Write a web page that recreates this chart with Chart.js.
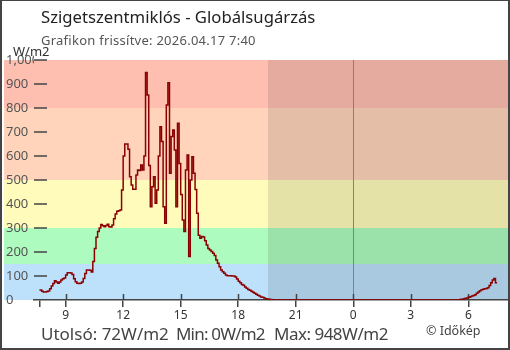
<!DOCTYPE html>
<html>
<head>
<meta charset="utf-8">
<script src="https://cdn.jsdelivr.net/npm/chart.js@4.4.1/dist/chart.umd.min.js"></script>
<style>
  body { margin: 0; background: #fff; font-family: "Noto Sans", sans-serif; }
  #box { position: relative; width: 510px; height: 350px; overflow: hidden; }
  #box canvas { position: absolute; left: 0; top: 0; }
  #frame { position: absolute; left: 0; top: 0; width: 510px; height: 350px; box-sizing: border-box;
           border: 2px solid #444; border-top-width: 1px; pointer-events: none; }
  .txt { position: absolute; line-height: 1; white-space: pre; }
  #title { left: 41px; top: 9px; font-size: 16.7px; color: #222; }
  #sub { left: 41px; top: 34px; font-size: 13px; color: #555; letter-spacing: 0.25px; }
  #unit { left: 13px; top: 45px; font-size: 13px; color: #333; }
  .foot { top: 325px; font-size: 17px; color: #444; }
  #copy { left: 426px; top: 325px; font-size: 12.5px; color: #444; }
</style>
</head>
<body>
<div id="box">
  <canvas id="sugarzas" width="510" height="350"></canvas>
  <div class="txt" id="title">Szigetszentmiklós - Globálsugárzás</div>
  <div class="txt" id="sub">Grafikon frissítve: 2026.04.17 7:40</div>
  <div class="txt" id="unit">W/m2</div>
  <div class="txt foot" style="left:41px">Utolsó: 72W/m2</div>
  <div class="txt foot" style="left:176px; letter-spacing:-0.8px">Min: 0W/m2</div>
  <div class="txt foot" style="left:274px; letter-spacing:-0.5px">Max: 948W/m2</div>
  <div class="txt" id="copy">© Időkép</div>
  <div id="frame"></div>
</div>
<script>
// 5 perces mintak, az elso 7:40-kor (orak az elozo nap 0:00-tol)
const startHour = 7 + 40 / 60;
const stepMinutes = 5;

const radiation = [
  44, 42, 36, 33, 33, 35, 38, 47, 58, 69, 80, 75, 70, 75, 83, 89, 92, 104, 114, 114,
  112, 106, 89, 76, 70, 69, 70, 75, 90, 110, 125, 125, 124, 117, 160, 215, 261, 285, 300, 315,
  309, 305, 310, 316, 305, 304, 312, 339, 358, 370, 372, 375, 458, 600, 650, 650, 628, 514, 479, 461,
  461, 521, 542, 540, 563, 542, 600, 948, 854, 560, 389, 472, 514, 403, 458, 600, 722, 660, 389, 320,
  812, 905, 528, 681, 708, 625, 389, 736, 569, 440, 333, 285, 542, 604, 181, 500, 597, 528, 460, 361,
  270, 257, 265, 263, 247, 229, 215, 208, 202, 195, 185, 167, 153, 139, 125, 118, 111, 104, 101, 101,
  101, 100, 100, 96, 88, 78, 72, 65, 61, 54, 49, 44, 41, 36, 32, 28, 24, 20, 17, 13,
  11, 8, 5, 4, 3, 2, 1, 0, 0, 0, 0, 0, 0, 0, 0, 0, 0, 0, 0, 0,
  0, 0, 0, 0, 0, 0, 0, 0, 0, 0, 0, 0, 0, 0, 0, 0, 0, 0, 0, 0,
  0, 0, 0, 0, 0, 0, 0, 0, 0, 0, 0, 0, 0, 0, 0, 0, 0, 0, 0, 0,
  0, 0, 0, 0, 0, 0, 0, 0, 0, 0, 0, 0, 0, 0, 0, 0, 0, 0, 0, 0,
  0, 0, 0, 0, 0, 0, 0, 0, 0, 0, 0, 0, 0, 0, 0, 0, 0, 0, 0, 0,
  0, 0, 0, 0, 0, 0, 0, 0, 0, 0, 0, 0, 0, 0, 0, 0, 0, 0, 0, 0,
  0, 0, 0, 0, 3, 3, 5, 7, 8, 11, 14, 17, 19, 22, 28, 33, 39, 43, 45, 47,
  48, 51, 60, 72, 83, 90, 72
];

// x tengely: orak (24 felett mar masnap)
const xMin = 7.35;
const xMax = 32.07;
const tickHours = [startHour, 9, 12, 15, 18, 21, 24, 27, 30];

// hatter savok (W/m2)
const bandFrom = [0, 150, 300, 500, 800];
const bandTo = [150, 300, 500, 800, 1000];
const bandColors = ['#bde0fb', '#adfbbe', '#fffcbb', '#ffd4bb', '#ffbfb0'];

// ejszaka (napnyugtatol) es ejfel
const sunsetHour = 19.55;
const midnightHour = 24;

const points = radiation.map((v, i) => ({ x: startHour + i * stepMinutes / 60, y: v }));

const background = {
  id: 'background',
  beforeDraw(chart) {
    const { ctx, chartArea, scales: { x, y } } = chart;
    ctx.save();
    bandFrom.forEach((from, i) => {
      const top = y.getPixelForValue(bandTo[i]);
      const bottom = y.getPixelForValue(from);
      ctx.fillStyle = bandColors[i];
      ctx.fillRect(4, top, chartArea.right - 4, bottom - top);
    });
    const night = x.getPixelForValue(sunsetHour);
    ctx.fillStyle = 'rgba(0,0,0,0.1)';
    ctx.fillRect(night, chartArea.top, chartArea.right - night, chartArea.bottom - chartArea.top);
    const mid = Math.round(x.getPixelForValue(midnightHour)) + 0.5;
    ctx.strokeStyle = '#4a8fcc';
    ctx.lineWidth = 1;
    ctx.beginPath();
    ctx.moveTo(mid, chartArea.top);
    ctx.lineTo(mid, chartArea.bottom);
    ctx.stroke();
    ctx.restore();
  },
  beforeDatasetsDraw(chart) {
    const { ctx, chartArea, scales: { x, y } } = chart;
    ctx.save();
    ctx.strokeStyle = '#444';
    ctx.lineWidth = 1.5;
    ctx.beginPath();
    // y osztasjelek a rajzterulet bal szelen
    for (let v = 100; v <= 1000; v += 100) {
      const py = Math.round(y.getPixelForValue(v));
      ctx.moveTo(chartArea.left, py);
      ctx.lineTo(chartArea.left + 13, py);
    }
    // x osztasjelek felso resze
    tickHours.slice(1).forEach(h => {
      const px = Math.round(x.getPixelForValue(h)) + 0.5;
      ctx.moveTo(px, chartArea.bottom - 6);
      ctx.lineTo(px, chartArea.bottom);
    });
    ctx.stroke();
    ctx.restore();
  }
};

new Chart(document.getElementById('sugarzas'), {
  type: 'line',
  data: {
    datasets: [{
      data: points,
      borderColor: '#8b0000',
      borderWidth: 1.5,
      pointRadius: 0,
      stepped: 'after',
      fill: false
    }]
  },
  options: {
    responsive: false,
    animation: false,
    layout: { padding: { left: 6, right: 2, top: 60, bottom: 26 } },
    plugins: {
      legend: { display: false },
      tooltip: { enabled: false }
    },
    scales: {
      x: {
        type: 'linear',
        min: xMin,
        max: xMax,
        afterBuildTicks: s => { s.ticks = tickHours.map(h => ({ value: h })); },
        afterFit: s => { s.height = 24; },
        ticks: {
          autoSkip: false,
          maxRotation: 0,
          padding: 1,
          color: '#333',
          font: { family: 'Noto Sans', size: 12 },
          callback: v => (v === startHour ? '' : String(v % 24))
        },
        grid: { drawOnChartArea: false, tickLength: 7, color: '#444', lineWidth: 1.5 },
        border: { color: '#444', width: 1.5 }
      },
      y: {
        min: 0,
        max: 1000,
        afterFit: s => { s.width = 28; },
        ticks: {
          stepSize: 100,
          crossAlign: 'far',
          padding: 0,
          color: '#555',
          font: { family: 'Noto Sans', size: 13 }
        },
        grid: { display: false, drawTicks: false },
        border: { display: false }
      }
    }
  },
  plugins: [background]
});
</script>
</body>
</html>
